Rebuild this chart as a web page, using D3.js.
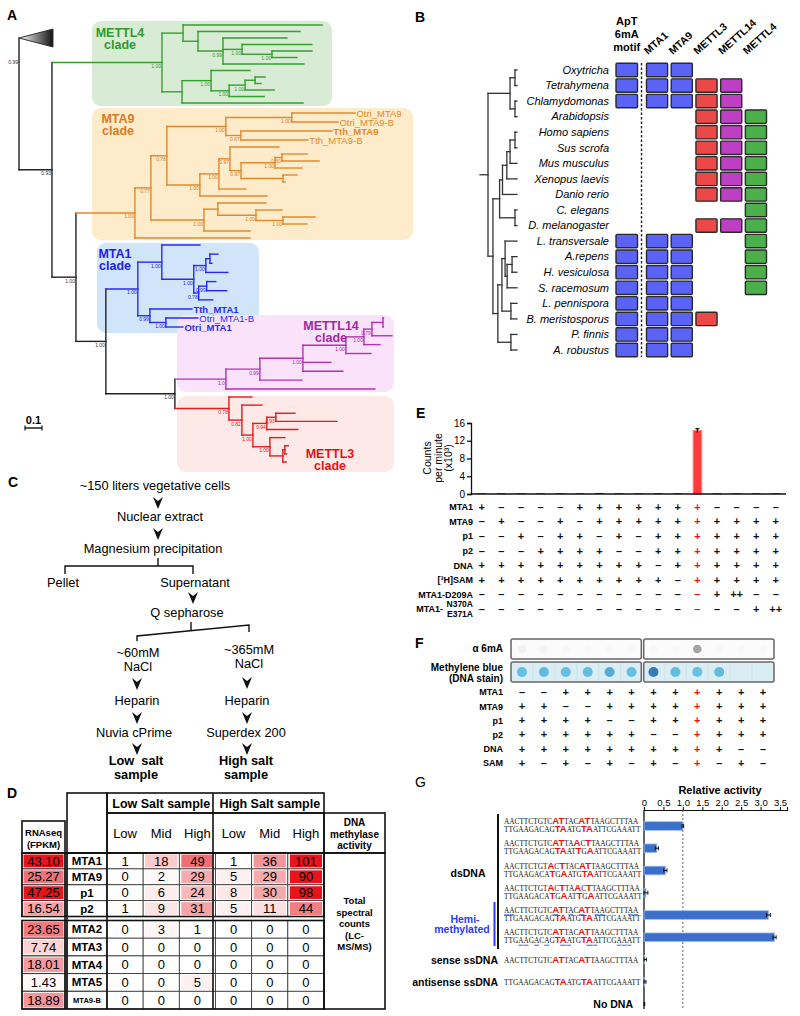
<!DOCTYPE html>
<html><head><meta charset="utf-8">
<script src="https://cdn.jsdelivr.net/npm/d3@7"></script>
<style>
body{margin:0;background:#fff}
svg{display:block;font-family:"Liberation Sans",Arial,Helvetica,sans-serif}
</style></head><body>
<script>
// ======================= DATA =======================
// ---- Panel A: phylogeny (branch lengths in substitutions/site, support values)
const N = (len, sup, ...children) => ({len, sup, children});
const L = (len, name, bold) => ({len, name, bold});

const mettl4Clade = N(0.647,"1.00",
  N(0.124,"",
    L(0.818),
    N(0.088,"",
      L(0.6),
      N(0.147,"0.99",
        L(0.376),
        N(0.112,"1.00", L(0.41), N(0.176,"1.00", L(0.235), L(0.147))),
        L(0.476)))),
  N(0.118,"",
    N(0.171,"1.00",
      L(0.229),
      N(0.106,"1.00",
        N(0.094,"1.00", N(0.059,"", L(0.059), L(0.035)), L(0.171)),
        L(0.206))),
    L(0.712)));

const mta9Clade = N(0.347,"1.00",
  N(0.094,"0.77",
    N(0.094,"0.78",
      N(0.347,"1.00",
        N(0.388,"1.00", L(0.371,"Otri_MTA9"), L(0.271,"Otri_MTA9-B")),
        N(0.088,"0.67", L(0.535,"Tth_MTA9",true), L(0.394,"Tth_MTA9-B"))),
      N(0.194,"1.00",
        N(0.112,"1.00",
          N(0.065,"0.97",
            L(0.288),
            N(0.065,"0.97",
              N(0.2,"1.00", N(0.041,"0.60", L(0.147), L(0.218)), L(0.159)),
              N(0.247,"", L(0.082), L(0.012)))),
          L(0.159)),
        L(0.394))),
    N(0.312,"1.00",
      N(0.082,"",
        L(0.282),
        N(0.224,"1.00", L(0.153), N(0.159,"1.00", L(0.188), L(0.141)))),
      L(0.271))),
  L(0.676));

const mta1Clade = N(0.188,"1.00",
  N(0.141,"1.00",
    L(0.224),
    N(0.188,"1.00",
      N(0.071,"1.00", N(0.024,"", L(0.047), L(0.012)), L(0.129)),
      N(0.029,"0.78", N(0.047,"0.99", L(0.053), L(0.118)), L(0.082)))),
  N(0.071,"0.99",
    L(0.247,"Tth_MTA1",true),
    N(0.094,"1.00", L(0.188,"Otri_MTA1-B"), L(0.1,"Otri_MTA1",true))));

const mettl14Clade = N(0.3,"1.0",
  N(0.2,"0.99",
    N(0.253,"1.00",
      N(0.253,"1.00",
        N(0.106,"1.00",
          N(0.047,"0.79", N(0.065,"", L(0.003), L(0.003)), L(0.118)),
          L(0.094)),
        L(0.147)),
      L(0.165),
      L(0.235)),
    L(0.247)),
  L(0.876));

const mettl3Clade = N(0.318,"0.78",
  L(0.135),
  N(0.076,"0.82",
    L(0.118),
    N(0.065,"1.00",
      N(0.082,"0.94", N(0.053,"0.93", L(0.112), L(0.359)), L(0.182)),
      N(0.1,"1.00", L(0.088), N(0.076,"", N(0.012,"", L(0.02), L(0.01)), L(0.02))))));

const outgroup = {len:0, span:0.2, collapsed:true};
const treeA = N(0,"0.99",
  outgroup,
  N(0.194,"0.93",
    mettl4Clade,
    N(0.141,"1.00",
      mta9Clade,
      N(0.176,"1.00",
        mta1Clade,
        N(0.406,"1.00", mettl14Clade, mettl3Clade)))));

const cladeNames = ["METTL4","MTA9","MTA1","METTL14","METTL3"];
const cladeNodes = [mettl4Clade, mta9Clade, mta1Clade, mettl14Clade, mettl3Clade];

// ---- Panel B: gene presence
const bSpecies = ["Oxytricha","Tetrahymena","Chlamydomonas","Arabidopsis","Homo sapiens","Sus scrofa",
  "Mus musculus","Xenopus laevis","Danio rerio","C. elegans","D. melanogaster","L. transversale",
  "A.repens","H. vesiculosa","S. racemosum","L. pennispora","B. meristosporus","P. finnis","A. robustus"];
const bGenes = ["MTA1","MTA9","METTL3","METTL14","METTL4"];
const bMotifLabel = ["ApT","6mA","motif"];
const bMotif =    [1,1,1,0,0,0,0,0,0,0,0,1,1,1,1,1,1,1,1];
const bPresence = [
  [1,1,0,0,0],[1,1,1,1,0],[1,1,1,1,0],[0,0,1,1,1],[0,0,1,1,1],[0,0,1,1,1],[0,0,1,1,1],
  [0,0,1,1,1],[0,0,1,1,1],[0,0,0,0,1],[0,0,1,1,1],[1,1,0,0,1],[1,1,0,0,1],[1,1,0,0,1],
  [1,1,0,0,1],[1,1,0,0,0],[1,1,1,0,0],[1,1,0,0,0],[1,1,0,0,0]];
// species cladogram (node depth rank, leaves at 10)
const S = (d, ...children) => ({d, children});
const sp = name => ({d:10, name});
const speciesTree = S(0,
  S(7.6, S(9.3, sp("Oxytricha"), sp("Tetrahymena")), S(9.3, sp("Chlamydomonas"), sp("Arabidopsis"))),
  S(1.7,
    S(4,
      S(5, S(6.5, S(7.6, S(9.3, sp("Homo sapiens"), sp("Sus scrofa")), sp("Mus musculus")), sp("Xenopus laevis")), sp("Danio rerio")),
      S(9.3, sp("C. elegans"), sp("D. melanogaster"))),
    S(3.4,
      S(4.8,
        S(5.9, sp("L. transversale"), S(6.6, S(8.3, sp("A.repens"), sp("H. vesiculosa")), sp("S. racemosum"))),
        S(7.9, sp("L. pennispora"), sp("B. meristosporus"))),
      S(7.9, sp("P. finnis"), sp("A. robustus")))));

// ---- Panel C: purification scheme
const cSteps = [["~150 liters vegetative cells"],["Nuclear extract"],["Magnesium precipitation"],["Pellet"],["Supernatant"],
  ["Q sepharose"],["~60mM","NaCl"],["~365mM","NaCl"],["Heparin"],["Heparin"],["Nuvia cPrime"],["Superdex 200"],
  ["Low  salt","sample"],["High salt","sample"]];

// ---- Panel D: table
const dGenes = ["MTA1","MTA9","p1","p2","MTA2","MTA3","MTA4","MTA5","MTA9-B"];
const dRNAseq = [43.10,25.27,47.25,16.54,23.65,7.74,18.01,1.43,18.89];
const dSamples = ["Low Salt sample","High Salt sample"];
const dFractions = ["Low","Mid","High","Low","Mid","High"];
const dCounts = [
  [1,18,49,1,36,101],[0,2,29,5,29,90],[0,6,24,8,30,98],[1,9,31,5,11,44],
  [0,3,1,0,0,0],[0,0,0,0,0,0],[0,0,0,0,0,0],[0,0,5,0,0,0],[0,0,0,0,0,0]];

// ---- Panel E: methyltransferase assay
const eTicks = [0,4,8,12,16];
const eValues = [0.2,0.2,0.2,0.2,0.2,0.2,0.25,0.2,0.2,0.2,0.2,14.3,0.2,0.2,0.2,0.2];
const eErr =    [0,0,0,0,0,0,0,0,0,0,0,0.45,0,0,0,0];
const eHighlight = 11;
const eRows = ["MTA1","MTA9","p1","p2","DNA","[³H]SAM","MTA1-D209A","MTA1-N370A/E371A"];
const eMatrix = [
  "+ - - - - + + + + + + + - - - -",
  "- + - - + - + + + + + + + + + +",
  "- - + - + + - + - + + + + + + +",
  "- - - + + + + - - + + + + + + +",
  "+ + + + + + + + + - + + + + + +",
  "+ + + + + + + + + + - + + + + +",
  "- - - - - - - - - - - - + ++ - -",
  "- - - - - - - - - - - - - - + ++"];

// ---- Panel F: dot blot
const fAlpha = [0.06,0.05,0.02,0.02,0.02,0.02,0.02,0.02,0.6,0.02,0.02,0.02];
const fBlue =  [0.15,0.2,0.15,0.18,0.35,0.15,0.85,0.18,0.12,0.2,0,0];
const fHighlight = 8;
const fRows = ["MTA1","MTA9","p1","p2","DNA","SAM"];
const fMatrix = [
  "- - + + + + + + + + + +",
  "+ + - - + + + + + + + +",
  "+ + + + - - + + + + + +",
  "+ + + + + + - - + + + +",
  "+ + + + + + + + + + - -",
  "+ - + - + - + - + - + -"];

// ---- Panel G: relative activity
const gTicks = [0,0.5,1,1.5,2,2.5,3,3.5];
const gValues = [1.0,0.33,0.55,0.05,3.2,3.36,0.01,0.01,0.0];
const gErr =    [0.02,0.04,0.04,0.05,0.05,0.04,0.05,0.04,0.02];
const gSeqs = [
  ["AACTTCTGTC[AT]TAC[AT]TAAGCTTTAA","TTGAAGACAG[TA]ATG[TA]ATTCGAAATT"],
  ["AACTTCTGTC[AT]TA[A]C[T]TAAGCTTTAA","TTGAAGACAG[TA]AT[T]G[A]ATTCGAAATT"],
  ["AACTTCTGT[A]C[T]TAC[AT]TAAGCTTTAA","TTGAAGACA[T]G[A]ATG[TA]ATTCGAAATT"],
  ["AACTTCTGT[A]C[T]TA[A]C[T]TAAGCTTTAA","TTGAAGACA[T]G[A]AT[T]G[A]ATTCGAAATT"],
  ["AACTTCTGTC[AT]TAC[AT]TAAGCTTTAA","TTGAAGACAG[TA]ATG[TA]ATTCGAAATT"],
  ["AACTTCTGTC[AT]TAC[AT]TAAGCTTTAA","TTGAAGACAG[TA]ATG[TA]ATTCGAAATT"],
  ["AACTTCTGTC[AT]TAC[AT]TAAGCTTTAA"],
  ["TTGAAGACAG[TA]ATG[TA]ATTCGAAATT"],
  []];
const gHemiStrand = [-1,-1,-1,-1,0,1,-1,-1,-1];

// ======================= DRAWING =======================
const svg = d3.select("body").append("svg").attr("width",800).attr("height",1016);
const defs = svg.append("defs");
const grad = defs.append("linearGradient").attr("id","tri").attr("x1",0).attr("x2",1).attr("y1",0).attr("y2",0);
grad.append("stop").attr("offset",0).attr("stop-color","#fff");
grad.append("stop").attr("offset",1).attr("stop-color","#111");

// panel letters
[["A",7,20],["B",415,22],["C",8,487],["D",7,798],["E",416,418],["F",415,648],["G",415,787]].forEach(([t,x,y])=>
  svg.append("text").attr("x",x).attr("y",y).attr("font-size",14).attr("font-weight",t==="G"?"normal":"bold").text(t));

// ---------- Panel A ----------
const cladeStyle = {
  METTL4: {line:"#33a02c", fill:"#d8ecd5", label:"#2e9a2e", leafY:[25,103], box:[92,21,332,106], lab:[120,37]},
  MTA9:   {line:"#e08a2c", fill:"#fdebc9", label:"#d97a1e", leafY:[113,238], box:[92,108,413,240], lab:[118,123.5]},
  MTA1:   {line:"#2a2af0", fill:"#d0e4fa", label:"#2222e0", leafY:[245,327], box:[97,243,259,333], lab:[115,258]},
  METTL14:{line:"#b232b2", fill:"#fbe2fb", label:"#a426a4", leafY:[318,389], box:[177,315,394,392], lab:[331,330]},
  METTL3: {line:"#e01b1b", fill:"#fdeae8", label:"#dd1515", leafY:[397,462], box:[177,396,394,472], lab:[330,458]}
};
const xA = d3.scaleLinear().domain([0,1]).range([19,189]);
const gA = svg.append("g");
const NAMED_STEP = 9;
function setDepth(n, d0){ n.d = d0 + (n.len||0); (n.children||[]).forEach(c=>setDepth(c,n.d)); }
function leavesOf(n){ return n.children ? n.children.flatMap(leavesOf) : [n]; }
function yOf(n){ if(n.y===undefined){ n.children.forEach(yOf); n.y=(n.children[0].y+n.children[n.children.length-1].y)/2; } return n.y; }
function layoutLeaves(root,[y0,y1]){
  const lv = leavesOf(root);
  const big = lv.slice(1).map((l,i)=>!!(l.name && lv[i].name));
  const nBig = big.filter(Boolean).length, nSmall = big.length-nBig;
  const small = (y1-y0-nBig*NAMED_STEP)/nSmall;
  let y=y0; lv[0].y=y0;
  big.forEach((b,i)=>{ y += b?NAMED_STEP:small; lv[i+1].y=y; });
}
setDepth(treeA,0);
cladeNodes.forEach((n,i)=>{ n.clade = cladeStyle[cladeNames[i]]; layoutLeaves(n, n.clade.leafY); yOf(n); });
outgroup.y = 38;
yOf(treeA);

cladeNames.forEach(nm=>{
  const s = cladeStyle[nm], b=s.box;
  gA.append("rect").attr("x",b[0]).attr("y",b[1]).attr("width",b[2]-b[0]).attr("height",b[3]-b[1]).attr("rx",9).attr("fill",s.fill);
});
const gLines = gA.append("g").attr("stroke-width",1.4).attr("stroke-linecap","square");
const gLab = gA.append("g");
function drawA(n,color,lab){
  if(!n.children) return;
  const x = xA(n.d), ys = n.children.map(c=>c.y);
  gLines.append("line").attr("x1",x).attr("x2",x).attr("y1",d3.min(ys)).attr("y2",d3.max(ys)).attr("stroke",color);
  n.children.forEach(c=>{
    const cc = c.clade ? c.clade.line : color;
    const lc = c.clade ? c.clade.label : lab;
    if(c.collapsed){
      const xe = xA(c.d+c.span);
      gA.append("path").attr("d",`M${x},${c.y}L${xe},${c.y-9}L${xe},${c.y+9}Z`).attr("fill","url(#tri)").attr("stroke","#333").attr("stroke-width",1);
      return;
    }
    gLines.append("line").attr("x1",x).attr("x2",xA(c.d)).attr("y1",c.y).attr("y2",c.y).attr("stroke",cc);
    if(c.children && c.sup) gLab.append("text").attr("x",xA(c.d)-1).attr("y",c.y+5.5).attr("text-anchor","end").attr("font-size",5).attr("fill",lc).text(c.sup);
    if(!c.children && c.name) gLab.append("text").attr("x",xA(c.d)+1.5).attr("y",c.y+3.5).attr("font-size",9.5)
      .attr("font-weight",c.bold?"bold":"normal").attr("fill",cc).text(c.name);
    drawA(c,cc,lc);
  });
}
drawA(treeA,"#222","#333");
gLab.append("text").attr("x",xA(treeA.d)-1).attr("y",outgroup.y+26).attr("text-anchor","end").attr("font-size",5).attr("fill","#333").text(treeA.sup);
cladeNames.forEach(nm=>{
  const s=cladeStyle[nm];
  const t=gA.append("text").attr("text-anchor","middle").attr("font-size",12.5).attr("font-weight","bold").attr("fill",s.label);
  t.append("tspan").attr("x",s.lab[0]).attr("y",s.lab[1]-0.5).text(nm);
  t.append("tspan").attr("x",s.lab[0]).attr("y",s.lab[1]+11.5).text("clade");
});
// scale bar
const sbLen = xA(0.1)-xA(0);
gA.append("text").attr("x",25+sbLen/2).attr("y",424).attr("text-anchor","middle").attr("font-size",11).attr("font-weight","bold").text("0.1");
gA.append("path").attr("d",`M25,425.5V430.5M25,428H${25+sbLen}M${25+sbLen},425.5V430.5`).attr("stroke","#222").attr("stroke-width",1.3).attr("fill","none");

// ---------- Panel B ----------
const gB = svg.append("g");
const yB = d3.scaleBand().domain(bSpecies).range([63.3,356.7]).paddingInner(0.14);
const xBmotif = d3.scaleBand().domain(["motif"]).range([616,637.5]);
const xBgene = d3.scaleBand().domain(bGenes).range([646.5,766.5]).paddingInner(0.145);
const bGeneColors = {MTA1:"#5b62f6",MTA9:"#5b62f6",METTL3:"#ec4848",METTL14:"#bd3fc2",METTL4:"#4cb04a"};
const bw = yB.bandwidth();
function bBox(x,y,w,fill){
  gB.append("rect").attr("x",x).attr("y",y).attr("width",w).attr("height",bw).attr("fill",fill).attr("stroke","#2a2a2a").attr("stroke-width",1.4).attr("rx",1);
}
bSpecies.forEach((s,i)=>{
  if(bMotif[i]) bBox(xBmotif("motif"),yB(s),xBmotif.bandwidth(),"#5b62f6");
  bGenes.forEach((g,j)=>{ if(bPresence[i][j]) bBox(xBgene(g),yB(s),xBgene.bandwidth(),bGeneColors[g]); });
  gB.append("text").attr("x",609).attr("y",yB(s)+bw/2+3.8).attr("text-anchor","end").attr("font-size",11).attr("font-style","italic").text(s);
});
gB.append("line").attr("x1",641.5).attr("x2",641.5).attr("y1",63).attr("y2",357).attr("stroke","#222").attr("stroke-width",1.4).attr("stroke-dasharray","2.5,2");
bMotifLabel.forEach((t,i)=>gB.append("text").attr("x",xBmotif("motif")+xBmotif.bandwidth()/2).attr("y",25+i*13).attr("text-anchor","middle").attr("font-size",11).attr("font-weight","bold").text(t));
bGenes.forEach(g=>{
  const x = xBgene(g)+xBgene.bandwidth()/2-9;
  gB.append("text").attr("transform",`translate(${x},55) rotate(-42)`).attr("font-size",10.5).attr("font-weight","bold").text(g);
});
// species cladogram
const xBt = d3.scaleLinear().domain([0,10]).range([488,517]);
function yS(n){ if(n.name){ n.y = yB(n.name)+bw/2; } else { n.children.forEach(yS); n.y=(n.children[0].y+n.children[n.children.length-1].y)/2; } return n.y; }
yS(speciesTree);
const gBt = gB.append("g").attr("stroke","#333").attr("stroke-width",1.3).attr("fill","none").attr("stroke-linecap","square");
function drawS(n){
  if(!n.children) return;
  const x=xBt(n.d);
  gBt.append("line").attr("x1",x).attr("x2",x).attr("y1",n.children[0].y).attr("y2",n.children[n.children.length-1].y);
  n.children.forEach(c=>{ gBt.append("line").attr("x1",x).attr("x2",xBt(c.d)).attr("y1",c.y).attr("y2",c.y); drawS(c); });
}
drawS(speciesTree);
gBt.append("line").attr("x1",480).attr("x2",xBt(0)).attr("y1",speciesTree.y).attr("y2",speciesTree.y);

// ---------- Panel C ----------
const gC = svg.append("g").attr("font-size",12.8);
const cPos = [[155,490],[160,521],[153,553],[63,587],[195,587],[187,617],[138,657],[249,654],[137,705],[247,705],[134,737],[246,737],[136,765],[246,765]];
cSteps.forEach((lines,i)=>{
  const t = gC.append("text").attr("text-anchor","middle").attr("font-weight",i>=12?"bold":"normal").attr("xml:space","preserve");
  lines.forEach((ln,k)=>t.append("tspan").attr("x",cPos[i][0]).attr("y",cPos[i][1]+k*14).text(ln));
});
const cArrows = [[158,497],[158,528],[193,592],[137,678],[247,677],[137,712],[247,712],[137,743],[247,743]];
cArrows.forEach(([x,y])=>gC.append("path").attr("d",`M${x-5},${y}L${x},${y+4}L${x+5},${y}L${x},${y+12}Z`).attr("fill","#111"));
gC.append("path").attr("d","M158,558V566M65,574V566H193V574").attr("stroke","#111").attr("stroke-width",1.4).attr("fill","none");
gC.append("path").attr("d","M191,622V630M137,641V636L249,625V632").attr("stroke","#111").attr("stroke-width",1.4).attr("fill","none");

// ---------- Panel D ----------
const gD = svg.append("g");
const heat = d3.scaleLinear().domain([0,80]).range(["#ffffff","#e8141c"]).clamp(true);
const heatR = d3.scaleLinear().domain([0,42]).range(["#ffffff","#e8141c"]).clamp(true);
const rowsTop = d3.scaleBand().domain(dGenes.slice(0,4)).range([853,916.5]);
const rowsBot = d3.scaleBand().domain(dGenes.slice(4)).range([920.5,1009]);
const rowBand = g => rowsTop.domain().includes(g) ? rowsTop : rowsBot;
const xCnt = d3.scaleBand().domain(d3.range(6)).range([107,324]);
const cw = xCnt.step();
const thin = "#333";
dGenes.forEach((g,i)=>{
  const sc = rowBand(g), y = sc(g), h = sc.bandwidth();
  gD.append("rect").attr("x",22).attr("y",y).attr("width",43).attr("height",h).attr("fill","#fff").attr("stroke",thin).attr("stroke-width",1);
  gD.append("rect").attr("x",23.5).attr("y",y+1.5).attr("width",40).attr("height",h-3).attr("fill",heatR(dRNAseq[i]));
  gD.append("text").attr("x",43.5).attr("y",y+h/2+4.6).attr("text-anchor","middle").attr("font-size",13).text(dRNAseq[i].toFixed(2));
  gD.append("rect").attr("x",67).attr("y",y).attr("width",40).attr("height",h).attr("fill","#fff").attr("stroke",thin).attr("stroke-width",1);
  gD.append("text").attr("x",87).attr("y",y+h/2+(g==="MTA9-B"?2.7:4)).attr("text-anchor","middle").attr("font-size",g==="MTA9-B"?7.5:11.5).attr("font-weight","bold").text(g);
  dCounts[i].forEach((v,j)=>{
    gD.append("rect").attr("x",xCnt(j)).attr("y",y).attr("width",cw).attr("height",h).attr("fill","#fff").attr("stroke",thin).attr("stroke-width",0.8);
    gD.append("rect").attr("x",xCnt(j)+2).attr("y",y+1.5).attr("width",cw-4).attr("height",h-3).attr("fill",heat(v));
    gD.append("text").attr("x",xCnt(j)+cw/2).attr("y",y+h/2+4.6).attr("text-anchor","middle").attr("font-size",13).text(v);
  });
});
const thick = {stroke:"#111","stroke-width":1.6,fill:"none"};
function dRect(x,y,w,h){ const r=gD.append("rect").attr("x",x).attr("y",y).attr("width",w).attr("height",h); Object.entries(thick).forEach(([k,v])=>r.attr(k,v)); }
function dLine(x1,y1,x2,y2){ const r=gD.append("line").attr("x1",x1).attr("y1",y1).attr("x2",x2).attr("y2",y2); Object.entries(thick).forEach(([k,v])=>r.attr(k,v)); }
dRect(107,793,217,20); dRect(107,813,217,40); dRect(67,793,40,60); dRect(22,821,43,32);
dRect(324,813,61,40); dRect(324,853,61,156);
dRect(22,853,302,63.5); dRect(22,920.5,302,88.5);
dLine(213,793,213,1009); dLine(107,853,107,1009); dLine(65,853,65,1009); dLine(67,853,67,1009);
dSamples.forEach((s,i)=>gD.append("text").attr("x",xCnt(i*3)+cw*1.5).attr("y",807.5).attr("text-anchor","middle").attr("font-size",12.5).attr("font-weight","bold").text(s));
dFractions.forEach((f,j)=>gD.append("text").attr("x",xCnt(j)+cw/2).attr("y",837.5).attr("text-anchor","middle").attr("font-size",13).text(f));
[["RNAseq",836],["(FPKM)",848]].forEach(([t,y])=>gD.append("text").attr("x",43.5).attr("y",y).attr("text-anchor","middle").attr("font-size",9.5).attr("font-weight","bold").text(t));
[["DNA",826],["methylase",837.5],["activity",849]].forEach(([t,y])=>gD.append("text").attr("x",354.5).attr("y",y).attr("text-anchor","middle").attr("font-size",10).attr("font-weight","bold").text(t));
["Total","spectral","counts","(LC-","MS/MS)"].forEach((t,i)=>gD.append("text").attr("x",354.5).attr("y",904+i*11.6).attr("text-anchor","middle").attr("font-size",9.5).attr("font-weight","bold").text(t));

// ---------- Panel E ----------
const gE = svg.append("g");
const xE = d3.scaleBand().domain(d3.range(16)).range([472,785.6]).paddingInner(0.56).paddingOuter(0.28);
const yE = d3.scaleLinear().domain([0,16]).range([494,423]);
gE.selectAll("rect.bar").data(eValues).join("rect").attr("class","bar")
  .attr("x",(d,i)=>xE(i)).attr("width",xE.bandwidth()).attr("y",d=>yE(d)).attr("height",d=>yE(0)-yE(d))
  .attr("fill",(d,i)=>i===eHighlight?"#ff3b3b":"#555").attr("stroke",(d,i)=>i===eHighlight?"#ff8a8a":"none").attr("stroke-width",1);
eValues.forEach((v,i)=>{ if(eErr[i]>0){
  const cx=xE(i)+xE.bandwidth()/2;
  gE.append("path").attr("d",`M${cx},${yE(v+eErr[i])}V${yE(v-eErr[i])}M${cx-2},${yE(v+eErr[i])}H${cx+2}`).attr("stroke","#111").attr("stroke-width",1.3);
}});
const axE = gE.append("g").attr("transform","translate(471,0)").call(d3.axisLeft(yE).tickValues(eTicks).tickSize(4).tickPadding(2));
axE.selectAll("text").attr("font-size",10).attr("font-family",null);
axE.selectAll("path,line").attr("stroke","#111").attr("stroke-width",1.3);
gE.append("line").attr("x1",471).attr("x2",786).attr("y1",494).attr("y2",494).attr("stroke","#111").attr("stroke-width",1.3);
[["Counts",431],["per minute",441.5],["(x10³)",452]].forEach(([t,x])=>
  gE.append("text").attr("transform",`translate(${x},458) rotate(-90)`).attr("text-anchor","middle").attr("font-size",10.5).text(t));
const yErow = d3.scalePoint().domain(eRows).range([507,609]);
eRows.forEach((r,i)=>{
  const y=yErow(r);
  if(r.includes("/")){
    const [a,b]=r.split("/");
    const pre=a.slice(0,5), m1=a.slice(5);
    gE.append("text").attr("x",443).attr("y",y+3).attr("text-anchor","end").attr("font-size",9).attr("font-weight","bold").text(pre);
    gE.append("text").attr("x",473).attr("y",y-2.5).attr("text-anchor","end").attr("font-size",8.5).attr("font-weight","bold").text(m1);
    gE.append("text").attr("x",473).attr("y",y+7.5).attr("text-anchor","end").attr("font-size",8.5).attr("font-weight","bold").text(b);
  } else {
    gE.append("text").attr("x",473).attr("y",y+3.3).attr("text-anchor","end").attr("font-size",9).attr("font-weight","bold").text(r);
  }
  eMatrix[i].split(" ").forEach((s,j)=>{
    gE.append("text").attr("x",xE(j)+xE.bandwidth()/2).attr("y",y+3.8).attr("text-anchor","middle").attr("font-size",11).attr("font-weight","bold")
      .attr("fill",j===eHighlight?"#ee1111":"#111").text(s.replace(/-/g,"–"));
  });
});

// ---------- Panel F ----------
const gF = svg.append("g");
const xF = d3.scaleBand().domain(d3.range(12)).range([511,774]);
const fLeft = [xF(0), xF(6)-1.2], fRight=[xF(6)+1.2, xF.range()[1]];
[[639,659,"#fbfbfb"],[662,682,"#d9edf3"]].forEach(([y0,y1,fill])=>{
  [fLeft,fRight].forEach(([a,b])=>gF.append("rect").attr("x",a).attr("y",y0).attr("width",b-a).attr("height",y1-y0).attr("rx",2).attr("fill",fill).attr("stroke","#666").attr("stroke-width",1.5));
});
d3.range(1,12).filter(i=>i!==6).forEach(i=>gF.append("line").attr("x1",xF(i)).attr("x2",xF(i)).attr("y1",663).attr("y2",681).attr("stroke","#c3dde6").attr("stroke-width",0.6));
const fx = i=>xF(i)+xF.bandwidth()/2;
fAlpha.forEach((a,i)=>gF.append("circle").attr("cx",fx(i)).attr("cy",649).attr("r",4.3).attr("fill",d3.interpolateRgb("#fbfbfb","#6a6a6a")(a)));
fBlue.forEach((a,i)=>{ if(a>0) gF.append("circle").attr("cx",fx(i)).attr("cy",672).attr("r",5).attr("fill",d3.interpolateRgb("#6fcdec","#2a6cb4")(a)); });
gF.append("text").attr("x",503).attr("y",652).attr("text-anchor","end").attr("font-size",10).attr("font-weight","bold").text("α 6mA");
gF.append("text").attr("x",503).attr("y",671).attr("text-anchor","end").attr("font-size",10).attr("font-weight","bold").text("Methylene blue");
gF.append("text").attr("x",503).attr("y",681.5).attr("text-anchor","end").attr("font-size",10).attr("font-weight","bold").text("(DNA stain)");
const yFrow = d3.scalePoint().domain(fRows).range([692,763]);
fRows.forEach((r,i)=>{
  const y=yFrow(r);
  gF.append("text").attr("x",503).attr("y",y+3.3).attr("text-anchor","end").attr("font-size",9).attr("font-weight","bold").text(r);
  fMatrix[i].split(" ").forEach((s,j)=>gF.append("text").attr("x",fx(j)).attr("y",y+3.8).attr("text-anchor","middle").attr("font-size",11).attr("font-weight","bold")
    .attr("fill",j===fHighlight?"#ee1111":"#111").text(s.replace(/-/g,"–")));
});

// ---------- Panel G ----------
const gG = svg.append("g");
const xG = d3.scaleLinear().domain([0,3.68]).range([644,787]);
const yG = d3.scalePoint().domain(d3.range(gValues.length)).range([826,1004]);
gG.append("text").attr("x",720).attr("y",794).attr("text-anchor","middle").attr("font-size",11).attr("font-weight","bold").text("Relative activity");
const axG = gG.append("g").attr("transform","translate(0,810)").call(d3.axisTop(xG).tickValues(gTicks).tickSize(3).tickPadding(1.5).tickFormat(d=>d===0?"0":d.toFixed(1)));
axG.selectAll("text").attr("font-size",9.5).attr("font-family",null);
axG.selectAll("path,line").attr("stroke","#111").attr("stroke-width",1.1);
gG.append("line").attr("x1",xG(0)).attr("x2",xG(0)).attr("y1",810).attr("y2",1009).attr("stroke","#111").attr("stroke-width",1.3);
gG.append("line").attr("x1",xG(1)).attr("x2",xG(1)).attr("y1",810).attr("y2",1009).attr("stroke","#555").attr("stroke-width",0.9).attr("stroke-dasharray","2,2");
gValues.forEach((v,i)=>{
  const y=yG(i);
  if(v>0.005) gG.append("rect").attr("x",xG(0)).attr("y",y-4.3).attr("width",xG(v)-xG(0)).attr("height",8.6).attr("fill","#3c6fcc").attr("stroke","#9bbbe8").attr("stroke-width",0.8);
  const x1=xG(Math.max(0,v-gErr[i])), x2=xG(v+gErr[i]);
  gG.append("path").attr("d",`M${x1},${y}H${x2}M${x2},${y-2}V${y+2}M${x1},${y-2}V${y+2}`).attr("stroke","#111").attr("stroke-width",1);
});
function seqText(str, x, y){
  const t = gG.append("text").attr("x",x).attr("y",y);
  str.split(/(\[[A-Z]+\])/).filter(s=>s.length).forEach(s=>{
    if(s[0]==="["){ t.append("tspan").attr("font-size",9.6).attr("font-weight","bold").attr("fill","#ee1111").text(s.slice(1,-1)); }
    else t.append("tspan").attr("font-family",'"Liberation Serif","Times New Roman",serif').attr("font-size",7.3).attr("fill","#111").text(s);
  });
  return t;
}
gSeqs.forEach((pair,i)=>{
  const y=yG(i);
  pair.forEach((s,k)=>{
    const by = pair.length===2 ? (k===0? y-2 : y+6.2) : y+3;
    const t = seqText(s,504,by);
    if(gHemiStrand[i]===k){
      const plain = s.replace(/[\[\]]/g,"");
      const el = t.node();
      for(let c=0;c<plain.length;c++){
        if(plain[c]==="A"){
          const e = el.getExtentOfChar(c);
          gG.append("line").attr("x1",e.x+0.3).attr("x2",e.x+e.width-0.3).attr("y1",by+1.8).attr("y2",by+1.8).attr("stroke","#4a6ee0").attr("stroke-width",1.1);
        }
      }
    }
  });
});
gG.append("line").attr("x1",498).attr("x2",498).attr("y1",814).attr("y2",949).attr("stroke","#111").attr("stroke-width",2);
gG.append("line").attr("x1",494.5).attr("x2",494.5).attr("y1",902).attr("y2",946).attr("stroke","#2a3cf0").attr("stroke-width",2);
gG.append("text").attr("x",468).attr("y",877).attr("text-anchor","middle").attr("font-size",10.5).attr("font-weight","bold").text("dsDNA");
gG.append("text").attr("x",465).attr("y",923).attr("text-anchor","middle").attr("font-size",10.5).attr("font-weight","bold").attr("fill","#2a3cf0").text("Hemi-");
gG.append("text").attr("x",462).attr("y",932.5).attr("text-anchor","middle").attr("font-size",10.5).attr("font-weight","bold").attr("fill","#2a3cf0").text("methylated");
gG.append("text").attr("x",498).attr("y",yG(6)+4).attr("text-anchor","end").attr("font-size",10.5).attr("font-weight","bold").text("sense ssDNA");
gG.append("text").attr("x",498).attr("y",yG(7)+4).attr("text-anchor","end").attr("font-size",10.5).attr("font-weight","bold").text("antisense ssDNA");
gG.append("text").attr("x",633).attr("y",yG(8)+4).attr("text-anchor","end").attr("font-size",10.5).attr("font-weight","bold").text("No DNA");
</script>
</body></html>
